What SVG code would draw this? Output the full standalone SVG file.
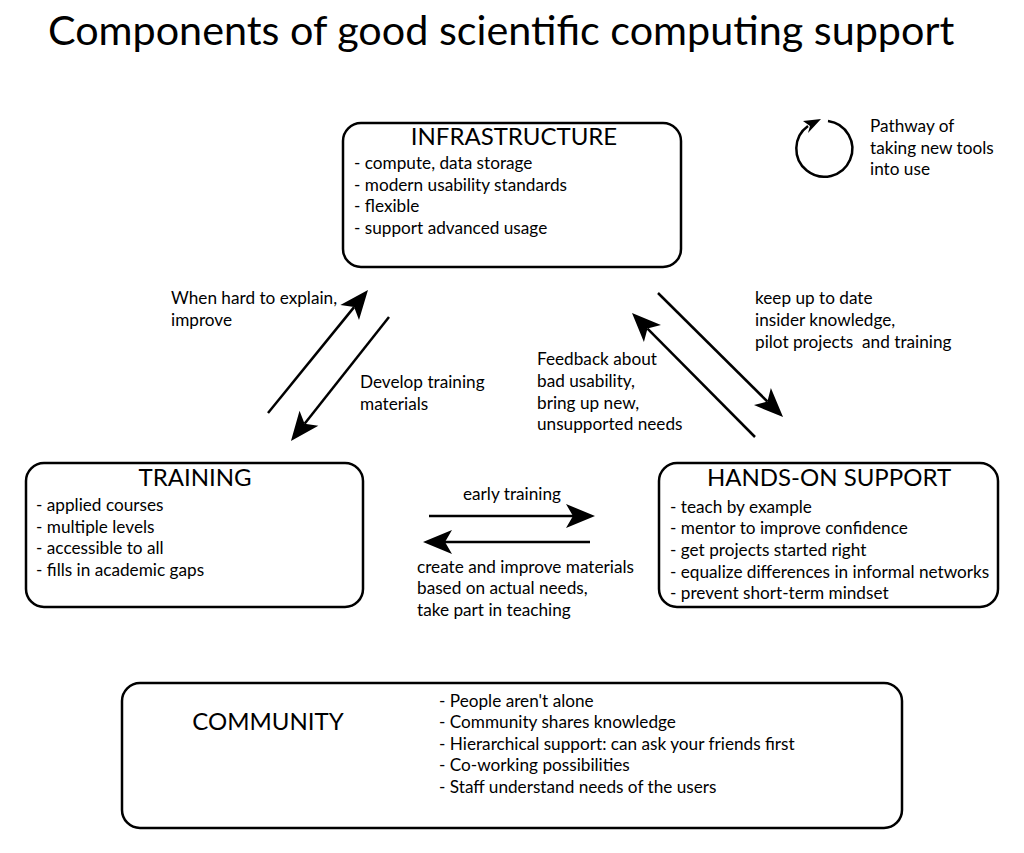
<svg xmlns="http://www.w3.org/2000/svg" width="1024" height="853" viewBox="0 0 1024 853">
<style>
text{font-family:Lato,"Noto Sans","Liberation Sans",sans-serif;fill:#000}
.title{font-size:41.3px}
.head{font-size:24px;text-anchor:middle}
.body{font-size:17.2px}
.pre{white-space:pre}
.box{fill:#fff;stroke:#000;stroke-width:2.5}
.conn{stroke:#000;stroke-width:2.5;fill:none;marker-end:url(#ah)}
</style>
<defs>
<marker id="ah" markerUnits="userSpaceOnUse" viewBox="-10 -15 40 30" refX="0" refY="0" markerWidth="40" markerHeight="30" orient="auto" overflow="visible">
<path d="M22,0 L-7,-12 L0,0 L-7,12 Z" fill="#000"/>
</marker>
</defs>
<rect width="1024" height="853" fill="#fff"/>
<text class="title" x="48" y="45">Components of good scientific computing support</text>

<g id="legend">
<path d="M828,121 A28,28 0 1 1 808,126" fill="none" stroke="#000" stroke-width="2.5"/>
<polygon points="821,119 803,121 810,126 808,133" fill="#000"/>
<text class="body" x="870" y="132">Pathway of</text>
<text class="body" x="870" y="154">taking new tools</text>
<text class="body" x="870" y="175">into use</text>
</g>

<g id="infrastructure">
<rect class="box" x="343" y="123" width="338" height="144" rx="18"/>
<text class="head" x="514" y="145">INFRASTRUCTURE</text>
<text class="body" x="354" y="169">- compute, data storage</text>
<text class="body" x="354" y="191">- modern usability standards</text>
<text class="body" x="354" y="212">- flexible</text>
<text class="body" x="354" y="234">- support advanced usage</text>
</g>

<g id="training">
<rect class="box" x="26" y="463" width="337" height="144" rx="18"/>
<text class="head" x="195" y="486">TRAINING</text>
<text class="body" x="36" y="511">- applied courses</text>
<text class="body" x="36" y="533">- multiple levels</text>
<text class="body" x="36" y="554">- accessible to all</text>
<text class="body" x="36" y="576">- fills in academic gaps</text>
</g>

<g id="handson">
<rect class="box" x="659" y="463" width="339" height="144" rx="18"/>
<text class="head" x="829" y="486">HANDS-ON SUPPORT</text>
<text class="body" x="670" y="513">- teach by example</text>
<text class="body" x="670" y="534">- mentor to improve confidence</text>
<text class="body" x="670" y="556">- get projects started right</text>
<text class="body" x="670" y="578">- equalize differences in informal networks</text>
<text class="body" x="670" y="599">- prevent short-term mindset</text>
</g>

<g id="community">
<rect class="box" x="122" y="683" width="780" height="145" rx="18"/>
<text class="head" x="268" y="730">COMMUNITY</text>
<text class="body" x="439" y="707">- People aren't alone</text>
<text class="body" x="439" y="728">- Community shares knowledge</text>
<text class="body" x="439" y="750">- Hierarchical support: can ask your friends first</text>
<text class="body" x="439" y="771">- Co-working possibilities</text>
<text class="body" x="439" y="793">- Staff understand needs of the users</text>
</g>

<g id="connectors">
<line class="conn" x1="268" y1="413" x2="354.1" y2="307.1"/>
<line class="conn" x1="389" y1="317" x2="304.6" y2="423.7"/>
<line class="conn" x1="658" y1="293" x2="767.4" y2="401.5"/>
<line class="conn" x1="755" y1="437" x2="647.5" y2="328.6"/>
<line class="conn" x1="429" y1="516" x2="573" y2="516"/>
<line class="conn" x1="590" y1="542" x2="445" y2="542"/>
<text class="body" x="171" y="304">When hard to explain,</text>
<text class="body" x="171" y="326">improve</text>
<text class="body" x="360" y="388">Develop training</text>
<text class="body" x="360" y="410">materials</text>
<text class="body" x="755" y="304">keep up to date</text>
<text class="body" x="755" y="326">insider knowledge,</text>
<text class="body pre" x="755" y="348">pilot projects  and training</text>
<text class="body" x="537" y="365">Feedback about</text>
<text class="body" x="537" y="387">bad usability,</text>
<text class="body" x="537" y="409">bring up new,</text>
<text class="body" x="537" y="430">unsupported needs</text>
<text class="body" x="463" y="500">early training</text>
<text class="body" x="417" y="573">create and improve materials</text>
<text class="body" x="417" y="594">based on actual needs,</text>
<text class="body" x="417" y="616">take part in teaching</text>
</g>
</svg>
